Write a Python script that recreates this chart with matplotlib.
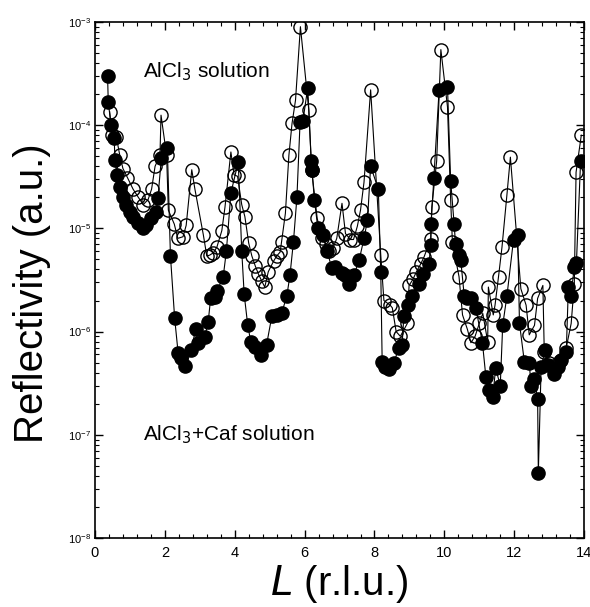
import matplotlib.pyplot as plt
from matplotlib.ticker import MultipleLocator, LogLocator

# AlCl3 solution (open circles)
L_open = [0.42, 0.49, 0.61, 0.71, 0.80, 0.93, 1.09, 1.24, 1.38, 1.52, 1.62, 1.72, 1.86, 1.89,
          2.05, 2.10, 2.27, 2.37, 2.52, 2.61, 2.77, 2.86, 3.10, 3.20, 3.28, 3.39, 3.49, 3.63,
          3.72, 3.89, 3.98, 4.08, 4.20, 4.29, 4.40, 4.49, 4.59, 4.68, 4.77, 4.86, 4.96, 5.11,
          5.20, 5.30, 5.34, 5.45, 5.55, 5.64, 5.74, 5.88, 6.12, 6.20, 6.36, 6.50, 6.60, 6.70,
          6.82, 6.92, 7.07, 7.17, 7.31, 7.40, 7.51, 7.60, 7.70, 7.89, 8.18, 8.27, 8.45, 8.51,
          8.62, 8.74, 8.94, 8.99, 9.10, 9.20, 9.32, 9.42, 9.61, 9.64, 9.78, 9.90, 10.09, 10.18,
          10.23, 10.42, 10.52, 10.66, 10.76, 10.88, 11.00, 11.10, 11.24, 11.26, 11.40, 11.45,
          11.55, 11.65, 11.79, 11.89, 12.19, 12.34, 12.43, 12.58, 12.67, 12.82, 12.86, 13.00,
          13.15, 13.30, 13.49, 13.63, 13.72, 13.77, 13.92]
R_open = [1.35e-4, 8.0e-5, 7.7e-5, 5.1e-5, 3.8e-5, 3.1e-5, 2.4e-5, 2.0e-5, 1.7e-5, 1.9e-5,
          2.4e-5, 4.0e-5, 5.1e-5, 1.25e-4, 5.1e-5, 1.5e-5, 1.1e-5, 8.0e-6, 8.3e-6, 1.07e-5,
          3.7e-5, 2.4e-5, 8.7e-6, 5.4e-6, 5.5e-6, 5.8e-6, 6.6e-6, 9.5e-6, 1.6e-5, 5.5e-5,
          3.3e-5, 3.2e-5, 1.7e-5, 1.3e-5, 7.2e-6, 5.4e-6, 4.3e-6, 3.6e-6, 3.1e-6, 2.7e-6,
          3.8e-6, 4.8e-6, 5.4e-6, 5.9e-6, 7.4e-6, 1.4e-5, 5.1e-5, 1.04e-4, 1.75e-4, 9.0e-4,
          1.4e-4, 3.7e-5, 1.25e-5, 8.0e-6, 7.0e-6, 6.0e-6, 6.5e-6, 8.0e-6, 1.75e-5, 8.9e-6,
          7.8e-6, 7.8e-6, 1.05e-5, 1.5e-5, 2.8e-5, 2.2e-4, 5.5e-6, 2.0e-6, 1.8e-6, 1.7e-6,
          1.0e-6, 9.0e-7, 1.2e-6, 2.8e-6, 3.2e-6, 3.8e-6, 4.5e-6, 5.3e-6, 7.9e-6, 1.6e-5,
          4.5e-5, 5.4e-4, 1.5e-4, 1.9e-5, 7.4e-6, 3.4e-6, 1.45e-6, 1.05e-6, 7.8e-7, 9.0e-7,
          1.2e-6, 1.5e-6, 8.0e-7, 2.7e-6, 1.45e-6, 1.8e-6, 3.4e-6, 6.6e-6, 2.1e-5, 4.9e-5,
          2.6e-6, 1.8e-6, 9.3e-7, 1.15e-6, 2.1e-6, 2.8e-6, 6.3e-7, 5.0e-7, 4.6e-7, 5.2e-7,
          7.0e-7, 1.2e-6, 2.9e-6, 3.5e-5, 8.0e-5]

# AlCl3 + Caf solution (filled circles)
L_caf = [0.36, 0.38, 0.46, 0.55, 0.57, 0.63, 0.73, 0.80, 0.89, 0.99, 1.08, 1.23, 1.37, 1.47,
         1.61, 1.75, 1.80, 1.90, 2.07, 2.16, 2.28, 2.38, 2.47, 2.59, 2.76, 2.88, 2.95, 3.14,
         3.24, 3.31, 3.43, 3.50, 3.67, 3.76, 3.89, 4.10, 4.20, 4.27, 4.37, 4.46, 4.58, 4.75,
         4.91, 5.06, 5.20, 5.34, 5.49, 5.58, 5.68, 5.78, 5.87, 5.95, 6.09, 6.19, 6.21, 6.28,
         6.38, 6.54, 6.64, 6.78, 6.88, 7.08, 7.16, 7.27, 7.41, 7.56, 7.70, 7.80, 7.89, 8.11,
         8.18, 8.22, 8.30, 8.41, 8.55, 8.70, 8.79, 8.84, 8.97, 9.08, 9.27, 9.40, 9.56, 9.61,
         9.62, 9.70, 9.85, 10.09, 10.18, 10.28, 10.32, 10.42, 10.47, 10.57, 10.66, 10.76,
         10.90, 11.09, 11.19, 11.28, 11.38, 11.47, 11.60, 11.67, 11.79, 11.98, 12.10, 12.15,
         12.29, 12.43, 12.48, 12.58, 12.67, 12.69, 12.77, 12.88, 12.96, 13.15, 13.25, 13.34,
         13.49, 13.55, 13.62, 13.72, 13.78, 13.90]
R_caf = [3.0e-4, 1.67e-4, 1.0e-4, 7.5e-5, 4.6e-5, 3.3e-5, 2.5e-5, 2.0e-5, 1.7e-5, 1.45e-5,
         1.3e-5, 1.12e-5, 1.0e-5, 1.07e-5, 1.25e-5, 1.45e-5, 1.95e-5, 4.8e-5, 6.0e-5, 5.4e-6,
         1.35e-6, 6.2e-7, 5.5e-7, 4.6e-7, 6.6e-7, 1.07e-6, 7.7e-7, 8.9e-7, 1.24e-6, 2.1e-6,
         2.15e-6, 2.5e-6, 3.4e-6, 6.0e-6, 2.2e-5, 4.4e-5, 6.1e-6, 2.3e-6, 1.17e-6, 7.9e-7,
         7.1e-7, 5.9e-7, 7.4e-7, 1.4e-6, 1.45e-6, 1.5e-6, 2.2e-6, 3.5e-6, 7.4e-6, 2.0e-5,
         1.07e-4, 1.1e-4, 2.3e-4, 4.5e-5, 3.7e-5, 1.9e-5, 1.0e-5, 8.7e-6, 6.1e-6, 4.1e-6,
         4.2e-6, 3.7e-6, 3.5e-6, 2.9e-6, 3.5e-6, 4.9e-6, 8.0e-6, 1.2e-5, 4.0e-5, 2.4e-5,
         3.8e-6, 5.1e-7, 4.5e-7, 4.3e-7, 5.0e-7, 6.9e-7, 7.4e-7, 1.4e-6, 1.8e-6, 2.2e-6,
         2.9e-6, 3.6e-6, 4.5e-6, 6.9e-6, 1.1e-5, 3.1e-5, 2.2e-4, 2.35e-4, 2.9e-5, 1.1e-5,
         7.0e-6, 5.5e-6, 4.9e-6, 2.2e-6, 2.1e-6, 2.1e-6, 1.7e-6, 7.8e-7, 3.6e-7, 2.7e-7,
         2.3e-7, 4.4e-7, 3.0e-7, 1.15e-6, 2.2e-6, 7.8e-6, 8.7e-6, 1.2e-6, 5.1e-7, 5.0e-7,
         3.0e-7, 3.5e-7, 2.2e-7, 4.3e-8, 4.5e-7, 6.6e-7, 4.7e-7, 3.9e-7, 4.5e-7, 5.3e-7,
         6.4e-7, 2.7e-6, 2.2e-6, 4.2e-6, 4.6e-6, 4.5e-5]

plt.rcParams['font.family'] = ['Liberation Sans', 'DejaVu Sans']

fig = plt.figure(figsize=(5.9, 6.07), dpi=100)
ax = fig.add_axes([0.161, 0.1137, 0.829, 0.8501])

ax.plot(L_caf, R_caf, color='black', lw=0.8, marker='o', ms=9.5,
        mfc='black', mec='black', zorder=2)
ax.plot(L_open, R_open, color='black', lw=0.8, marker='o', ms=9.5,
        mfc='none', mec='black', mew=1.0, zorder=3)

ax.set_yscale('log')
ax.set_xlim(0, 14)
ax.set_ylim(1e-8, 1e-3)

ax.xaxis.set_major_locator(MultipleLocator(2))
ax.xaxis.set_minor_locator(MultipleLocator(0.4))
ax.yaxis.set_major_locator(LogLocator(base=10))
ax.yaxis.set_minor_locator(LogLocator(base=10, subs=range(2, 10)))
ax.tick_params(which='both', direction='in', top=True, right=True)
ax.tick_params(which='major', length=6, width=1)
ax.tick_params(which='minor', length=3, width=0.8)
ax.tick_params(axis='x', labelsize=10.5, pad=6)
ax.tick_params(axis='y', labelsize=8, pad=3)
for s in ax.spines.values():
    s.set_linewidth(1.2)

ax.text(0.098, 0.903, 'AlCl$_3$ solution', transform=ax.transAxes,
        fontsize=15, va='center')
ax.text(0.098, 0.200, 'AlCl$_3$+Caf solution', transform=ax.transAxes,
        fontsize=15, va='center')

ax.set_xlabel('$L$ (r.l.u.)', fontsize=29, labelpad=2)
ax.set_ylabel('Reflectivity (a.u.)', fontsize=29)
ax.yaxis.set_label_coords(-0.09, 0.475)

fig.savefig('out.png', dpi=100)
